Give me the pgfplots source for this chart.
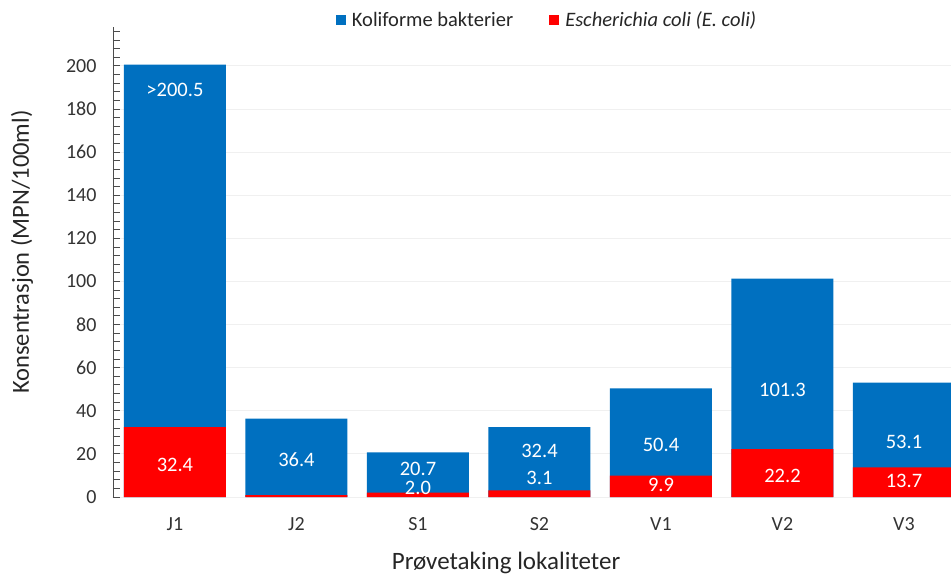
\documentclass[border=0pt]{standalone}
\usepackage{fontspec}
\setmainfont{Carlito}
\usepackage{pgfplots}
\pgfplotsset{compat=1.18}
\definecolor{kblue}{HTML}{0070C0}
\definecolor{ered}{HTML}{FF0000}
\begin{document}
\begin{tikzpicture}
\path[use as bounding box] (0,0) rectangle (951pt,574pt);
\begin{axis}[
  at={(113pt,77pt)}, anchor=south west,
  scale only axis, width=838pt, height=470pt,
  xmin=-0.51, xmax=6.387, ymin=0, ymax=218,
  xtick={0,...,6}, xticklabels={J1,J2,S1,S2,V1,V2,V3},
  ytick={0,20,...,200}, minor ytick={0,4,...,216},
  axis y line=left, y axis line style={-, black!70, line width=0.8pt},
  axis x line=bottom, x axis line style={draw=none},
  x tick style={draw=none},
  tick align=inside, major tick length=7pt, minor tick length=7pt,
  y tick style={black!70, line width=0.8pt},
  ymajorgrids, grid style={black!6, line width=0.8pt},
  tick label style={font=\fontsize{20}{23}\selectfont, text=black!80},
  /pgf/number format/assume math mode=true,
  xticklabel style={yshift=-17pt},
  yticklabel style={xshift=-13pt},
  xlabel={Prøvetaking lokaliteter},
  xlabel style={at={(axis description cs:0.469,0)}, anchor=base, yshift=-72pt, font=\fontsize{25}{28}\selectfont, text=black!85},
  ylabel={Konsentrasjon (MPN/100ml)},
  ylabel style={at={(axis description cs:-0.1086,0.521)}, anchor=center, font=\fontsize{24.5}{28}\selectfont, text=black!85},
  legend style={at={(axis description cs:0.518,1.015)}, anchor=center, draw=none, fill=none,
    legend columns=2, font=\fontsize{20.5}{23}\selectfont, text=black!85,
    /tikz/every even column/.append style={column sep=34pt}},
]
\addplot[ybar, bar width=102pt, bar shift=0pt, fill=kblue, draw=none,
  legend image code/.code={\fill[kblue] (0pt,-5pt) rectangle (10pt,5pt); \path (14pt,0pt);}]
  coordinates {(0,200.5) (1,36.4) (2,20.7) (3,32.4) (4,50.4) (5,101.3) (6,53.1)};
\addlegendentry{Koliforme bakterier}
\addplot[ybar, bar width=102pt, bar shift=0pt, fill=ered, draw=none,
  legend image code/.code={\fill[ered] (0pt,-5pt) rectangle (10pt,5pt); \path (14pt,0pt);}]
  coordinates {(0,32.4) (1,0.9) (2,2.0) (3,3.1) (4,9.9) (5,22.2) (6,13.7)};
\addlegendentry{\textit{Escherichia coli (E. coli)}}
\addplot[draw=none, mark=none, forget plot, nodes near coords, point meta=explicit symbolic,
  every node near coord/.append style={anchor=center, font=\fontsize{20.5}{23}\selectfont, text=white, inner sep=0pt}]
  table[meta=label] {
x y label
0 189 >200.5
0 14.8 32.4
1 17.2 36.4
2 13.2 20.7
2 4.3 2.0
3 21.3 32.4
3 8.8 3.1
4 24.1 50.4
4 5.4 9.9
5 49.7 101.3
5 9.7 22.2
6 25.5 53.1
6 7.4 13.7
};
\end{axis}
\end{tikzpicture}
\end{document}
